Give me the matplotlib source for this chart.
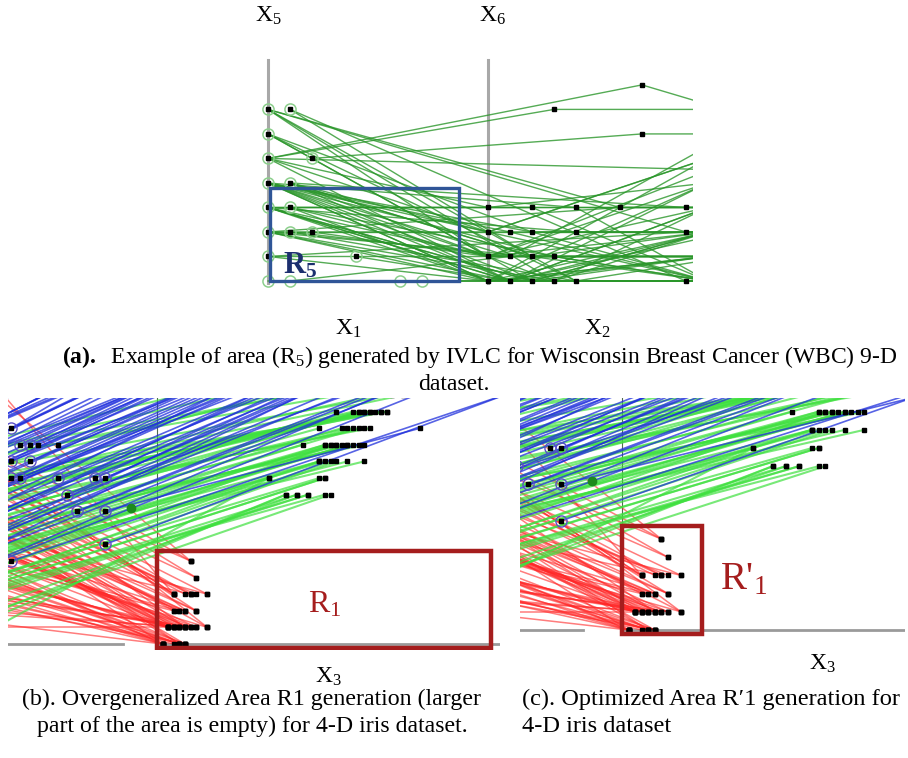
import matplotlib.pyplot as plt
from matplotlib.patches import Rectangle

plt.rcParams["font.family"] = ["Liberation Serif", "DejaVu Serif"]
plt.rcParams["mathtext.fontset"] = "custom"
plt.rcParams["mathtext.rm"] = "Liberation Serif"
plt.rcParams["mathtext.it"] = "Liberation Serif:italic"
plt.rcParams["mathtext.bf"] = "Liberation Serif:bold"

# ---------------------------------------------------------------
# (a) WBC cases: (X1, X5) left plane -> (X2, X6) right plane -> next pair
# ---------------------------------------------------------------
wbc_x1 = [0, 0, 0, 1, 0, 0, 0, 0, 0, 2, 0, 0, 0, 0, 0, 0, 0, 0, 1, 1, 0, 1, 0, 0, 0, 0, 0, 1,
          1, 0, 1, 0, 0, 0, 0, 1, 2, 0, 0, 1, 0, 4, 0, 0, 0, 1, 6, 7, 0, 1, 0, 0, 0, 1, 0, 0, 0, 0,
          0, 1, 0, 0, 1, 0, 0, 1]
wbc_x5 = [7, 7, 7, 7, 7, 6, 6, 5, 5, 5, 5, 5, 5, 4, 4, 4, 4, 4, 4, 4, 4, 4, 4, 3, 3, 3, 3, 3,
          3, 3, 3, 3, 2, 2, 2, 2, 2, 2, 2, 2, 1, 1, 1, 1, 0, 0, 0, 0, 6, 7, 7, 2, 3, 4, 4, 5, 6, 4,
          4, 4, 3, 3, 3, 2, 4, 4]
wbc_x2 = [3, 4, 0, 9, 6, 0, 2, 3, 7, 7, 12, 0, 1, 0, 1, 2, 0, 1, 2, 3, 2, 9, 4, 0, 1, 0, 2, 0,
          3, 0, 2, 4, 0, 0, 1, 1, 0, 2, 3, 4, 0, 1, 9, 0, 0, 1, 0, 1, 4, 2, 9, 6, 9, 0, 1, 0, 2, 3,
          0, 1, 1, 2, 0, 1, 0, 2]
wbc_x6 = [0, 0, 1, 0, 3, 1, 0, 7, 8, 6, 4.5, 2, 0, 0, 0, 0, 1, 1, 1, 0, 2, 3, 3, 0, 0, 1, 0, 0,
          1, 3, 3, 2, 0, 2, 2, 1, 1, 1, 0, 0, 1, 0, 2, 0, 0, 1, 0, 0, 0, 1, 2, 3, 3, 2, 2, 3, 2, 1,
          0, 0, 0, 0, 1, 0, 2, 1]
wbc_x3 = [0, 1, 0, 0, 1, 0, 0, 0, 0, 0, 2, 0, 0, 0, 1, 0, 0, 0, 0, 0, 0, 1, 0, 0, 0, 0, 0, 1,
          0, 0, 0, 0, 0, 0, 0, 1, 0, 0, 1, 0, 0, 0, 1, 0, 0, 0, 0, 0, 0, 0, 0, 0, 0, 0, 0, 0, 0, 0,
          0, 0, 0, 0, 0, 0, 0, 0]
wbc_x7 = [2, 1, 3, 0, 3, 4, 2, 7, 7.2, 6, 4.5, 5, 1, 4, 2, 0, 1, 5.5, 0, 3, 2, 3, 0, 2, 0, 2, 1, 0,
          0, 3, 0, 2, 0, 2, 0, 1, 4.5, 1, 0, 0, 1, 3, 2, 0, 5, 1, 1, 2, 0, 2, 2, 3, 3, 5, 2, 4, 0, 0,
          1, 3, 0, 2, 1, 4, 0, 1]

# ---------------------------------------------------------------
# (b), (c) iris: (X1, X2) left plane -> (X3, X4) right plane
# ---------------------------------------------------------------
setosa_x1 = [7, 9, 6, 10, 8, 7, 11, 9, 6, 8, 10, 7, 9, 11, 8, 6, 10, 7, 9, 8, 11, 6, 10, 7,
             9, 8, 10, 6, 7, 9, 11, 8, 6, 10, 7, 9, 8, 10, 6, 9, 11, 7, 5, 6,
             5, 7, 9, 11, 6, 8, 10, 12, 5, 7, 9, 11, 6, 8, 10, 12, 5, 7, 9, 11, 6, 8, 10, 12,
             7, 9, 6, 8, 10, 11]
setosa_x2 = [12.5, 11.8, 11.0, 10.6, 10.2, 9.8, 9.5, 9.1, 8.8, 8.5, 8.2, 7.9, 7.6, 7.4, 7.1,
             6.8, 6.6, 6.3, 6.0, 5.8, 5.5, 5.2, 5.0, 4.7, 4.4, 4.2, 3.9, 3.6, 3.3, 3.0, 2.7,
             2.4, 2.1, 1.8, 1.4, 1.0, 9.3, 7.0, 5.6, 4.0, 8.0, 6.1, 18.0, 16.5,
             9.0, 8.6, 8.3, 7.9, 7.7, 7.3, 7.0, 6.7, 6.5, 6.2, 5.9, 5.7, 5.4, 5.1, 4.9, 4.6,
             4.3, 4.1, 3.8, 3.5, 3.2, 2.9, 2.6, 2.3, 10.8, 10.0, 11.5, 12.0, 9.7, 6.9]
setosa_x3 = [6, 7, 6, 3, 7, 5, 9, 6, 7, 3, 9, 4, 5, 7, 2, 3, 9, 4, 5, 6, 7, 1, 9, 4,
             5, 2, 3, 4, 1, 5, 7, 5, 4, 6, 1, 3, 3, 5, 2, 4, 7, 6, 3, 6,
             5, 4, 2, 3, 7, 5, 4, 1, 6, 3, 5, 2, 4, 5, 1, 3, 2, 4, 5, 1, 4, 3, 5, 1,
             7, 6, 3, 9, 5, 4]
setosa_x4 = [5, 4, 5, 3, 4, 3, 3, 3, 3, 2, 1, 2, 2, 2, 1, 1, 3, 1, 1, 1, 1, 0, 1, 0,
             0, 1, 1, 0, 0, 1, 1, 0, 1, 1, 0, 1, 3, 2, 1, 0, 2, 3, 3, 5,
             1, 0, 1, 1, 1, 0, 0, 0, 1, 1, 2, 1, 2, 0, 0, 2, 1, 0, 1, 0, 1, 0, 0, 0,
             2, 3, 3, 1, 1, 1]

versicolor_x1 = [8, 10, 7, 9, 11, 8, 10, 6, 9, 7, 11, 8, 10, 6, 9, 11, 7, 10, 8, 12, 9, 6,
                 10, 8, 11, 7, 9, 12, 8, 10, 6, 11, 9, 7, 10, 8, 11, 7, 9, 10, 12, 6, 9,
                 6, 8, 10, 12, 7, 9, 11, 13, 6, 8, 10, 12, 7, 9, 11, 13, 8, 10, 12, 6]
versicolor_x2 = [1.5, 2.2, 2.8, 3.3, 2.0, 3.6, 4.0, 3.1, 4.4, 4.8, 3.8, 5.2, 5.5, 5.8, 6.1,
                 4.6, 6.4, 6.8, 5.0, 5.9, 7.2, 7.0, 7.5, 7.8, 6.6, 8.2, 8.5, 7.9, 8.8, 9.1,
                 8.6, 9.4, 9.8, 9.6, 10.2, 10.5, 10.0, 11.0, 11.3, 11.8, 10.8, 11.5, 12.2,
                 2.5, 3.0, 3.5, 4.2, 4.6, 5.1, 5.6, 6.0, 6.5, 7.0, 7.4, 8.0, 8.4, 9.0, 9.5,
                 10.0, 1.2, 0.8, 6.2, 5.3]
versicolor_x3 = [23, 25, 27, 30, 31, 20, 29, 30, 29, 30, 32, 34, 37, 26, 30, 31, 32, 33, 34,
                 35, 36, 37, 29, 34, 36, 37, 38, 32, 35, 36, 37, 38, 39, 40, 41,
                 42, 46, 38, 50, 33, 44, 55, 36,
                 27, 25, 30, 31, 29, 32, 34, 30, 33, 35, 36, 37, 38, 40, 41, 44, 23, 20, 31, 29]
versicolor_x4 = [9, 9, 9, 9, 9, 10, 10, 10, 11, 11, 11, 11, 11, 12, 12, 12, 12, 12, 12,
                 12, 12, 12, 13, 13, 13, 13, 13, 14, 14, 14, 14, 14, 14, 14, 14,
                 15, 15.5, 16, 16, 16.5, 17, 16.8, 17.5,
                 9, 9, 10, 11, 11, 12, 12, 12, 13, 13, 14, 14, 14, 14, 14, 15, 9, 10, 12, 11]

virginica_x1 = [14, 15.5, 17.3, 18.7, 22.3, 14, 17.3, 14, 15.5, 22.3, 29, 30.7, 24, 25.7,
                30.7, 30.7, 14,
                8, 6, 10, 7, 11, 9, 5, 12, 8, 6, 10, 7, 11, 9, 5, 12, 8, 6, 10, 7, 9, 11, 8,
                6, 12, 9, 5, 7, 9, 11, 13, 6, 8, 10, 12, 14, 5, 7, 9, 11, 13, 6, 8, 10, 12,
                14, 7, 9, 11, 13, 8]
virginica_x2 = [13, 12, 12, 12, 12, 11, 11, 10, 10, 10, 10, 10, 9, 8, 8, 6, 5,
                16, 15, 14.5, 14, 13.5, 13, 12.5, 12, 11.5, 11, 10.5, 10, 9.5, 9, 8.5, 8,
                7.5, 7, 6.5, 6, 5.5, 5, 4.5, 14, 15, 12, 13.5, 12.8, 12.2, 11.7, 11.2, 10.8,
                10.3, 9.8, 9.3, 8.8, 8.3, 7.8, 7.3, 6.8, 6.3, 5.8, 9.6, 11.0, 12.6, 14.0,
                15.5, 7.0, 6.0, 9.0, 13.0]
virginica_x3 = [30, 35, 40, 30, 45, 38, 42, 40, 50, 45, 40, 50, 45, 52, 47, 70, 62,
                25, 30, 22, 35, 28, 40, 32, 45, 26, 38, 50, 30, 42, 36, 45, 38, 40, 42,
                36, 44, 48, 40, 50, 20, 35, 24, 30, 35, 38, 33, 40, 36, 42, 38, 44, 34,
                40, 45, 36, 42, 38, 44, 30, 34, 30, 26, 24, 50, 46, 40, 28]
virginica_x4 = [22, 21, 21, 20, 21, 21, 20, 20, 20, 19, 18, 18.5, 18, 17, 13, 16, 15,
                26, 25, 24, 24, 23, 23, 22, 22, 21, 21, 21, 20, 20, 19, 19, 18, 17.5, 17.5,
                16.5, 16.5, 16, 15, 15.5, 25, 27, 23, 24, 23, 23, 22, 22, 21, 21, 20, 20,
                19, 19, 18.5, 18, 18, 17, 17, 19, 21, 22, 23, 25, 17, 16, 19, 23]

# circled cases on the left plane, and the one solid marker
ring_x1 = [14, 15.5, 17.3, 14, 17.3, 14, 15.5, 22.3, 29, 30.7, 24, 25.7, 30.7, 30.7, 14]
ring_x2 = [13, 12, 12, 11, 11, 10, 10, 10, 10, 10, 9, 8, 8, 6, 5]
marked_x1, marked_x2 = 35.4, 8.2

LEFT_ORIGIN = -40     # X1 = 0 sits this far left of the X3/X4 origin
WBC_GAP = 10          # distance between collocated planes in panel (a)

W, H = 908, 758
fig = plt.figure(figsize=(W / 100, H / 100), dpi=100)


def box(x0, y0, x1, y1):
    return [x0 / W, 1 - y1 / H, (x1 - x0) / W, (y1 - y0) / H]


def ftext(x, y, s, **kw):
    fig.text(x / W, 1 - y / H, s, va="center", **kw)


# ---------------- panel (a) ----------------
ax = fig.add_axes(box(258, 55, 693, 292))
ax.set_axis_off()
ax.set_xlim(-0.4545, 19.32)
ax.set_ylim(-0.449, 9.22)

for xa in (0, WBC_GAP):
    ax.plot([xa, xa], [-0.08, 9.02], color="#a8a8a8", lw=2.2, zorder=1)

for i in range(len(wbc_x1)):
    xs = [wbc_x1[i], WBC_GAP + wbc_x2[i], 2 * WBC_GAP + wbc_x3[i]]
    ys = [wbc_x5[i], wbc_x6[i], wbc_x7[i]]
    ax.plot(xs, ys, color="#2a962a", lw=1.0, alpha=0.8, zorder=2)

left_pts = sorted(set(zip(wbc_x1, wbc_x5)))
for px, py in left_pts:
    ax.plot(px, py, "o", ms=8, mfc="none", mec="#8ccf8c", mew=1.1, zorder=3)
    if py > 0:
        ax.plot(px, py, "s", ms=2.4, color="black", zorder=4)
right_pts = sorted(set(zip(wbc_x2, wbc_x6)))
for px, py in right_pts:
    ax.plot(WBC_GAP + px, py, "s", ms=2.4, color="black", zorder=4)

ax.add_patch(Rectangle((0.1, 0.0), 8.6, 3.78, fill=False, ec="#2f5597", lw=2.4, zorder=5))
ax.text(0.7, 0.62, r"$\mathbf{R}_{\mathbf{5}}$", color="#1c2f6e", fontsize=22,
        ha="left", va="center", zorder=6)

ftext(268, 16, r"X$_5$", fontsize=17, ha="center")
ftext(493, 16, r"X$_6$", fontsize=17, ha="center")
ftext(348, 329, r"X$_1$", fontsize=17, ha="center")
ftext(597, 329, r"X$_2$", fontsize=17, ha="center")

ftext(62, 357, r"$\mathbf{(a).}$  Example of area (R$_5$) generated by IVLC for "
      "Wisconsin Breast Cancer (WBC) 9-D", fontsize=17, ha="left")
ftext(454, 384, "dataset.", fontsize=17, ha="center")


# ---------------- panels (b) and (c) ----------------
def iris_panel(rect_px, xlim, ylim, region_w, region_h, label, label_xy, label_size):
    ax = fig.add_axes(box(*rect_px))
    ax.set_axis_off()
    ax.set_xlim(*xlim)
    ax.set_ylim(*ylim)

    ax.plot([LEFT_ORIGIN - 10, -6], [0, 0], color="#9a9a9a", lw=2, zorder=1)
    ax.plot([0, 90], [0, 0], color="#9a9a9a", lw=2, zorder=1)
    ax.plot([0, 0], [region_h - 0.3, 30], color="#4f6a4f", lw=0.8, zorder=1)

    for i in range(len(setosa_x1)):
        ax.plot([LEFT_ORIGIN + setosa_x1[i], setosa_x3[i]], [setosa_x2[i], setosa_x4[i]],
                color="#ff2626", lw=1.1, alpha=0.6, zorder=2)
    for i in range(len(versicolor_x1)):
        ax.plot([LEFT_ORIGIN + versicolor_x1[i], versicolor_x3[i]],
                [versicolor_x2[i], versicolor_x4[i]],
                color="#3fe03f", lw=1.5, alpha=0.7, zorder=3)
    for i in range(len(virginica_x1)):
        ax.plot([LEFT_ORIGIN + virginica_x1[i], virginica_x3[i]],
                [virginica_x2[i], virginica_x4[i]],
                color="#1f2fdc", lw=1.2, alpha=0.75, zorder=4)

    ax.plot(setosa_x3, setosa_x4, "s", ms=2.6, color="black", ls="none", zorder=6)
    ax.plot(versicolor_x3, versicolor_x4, "s", ms=2.6, color="black", ls="none", zorder=6)
    ax.plot(47, 13, "s", ms=2.6, color="black", zorder=6)
    for rx, ry in zip(ring_x1, ring_x2):
        ax.plot(LEFT_ORIGIN + rx, ry, "o", ms=8, mfc="none", mec="#5a4fc8", mew=1.0, zorder=5)
        ax.plot(LEFT_ORIGIN + rx, ry, "s", ms=2.8, color="black", zorder=6)
    ax.plot([LEFT_ORIGIN + 18.7, LEFT_ORIGIN + 22.3], [12, 12], "s", ms=2.8, color="black",
            ls="none", zorder=6)
    ax.plot(LEFT_ORIGIN + marked_x1, marked_x2, "o", ms=6, color="#1d8a1d", zorder=6)

    ax.add_patch(Rectangle((0, -0.22), region_w, region_h, fill=False, ec="#a51d1d",
                           lw=3.2, zorder=7))
    ax.text(*label_xy, label, color="#a51d1d", fontsize=label_size, ha="center",
            va="center", zorder=8)
    return ax


iris_panel((8, 398, 500, 650), (-26.6, 61.25), (-0.36, 14.82), 59.6, 5.82,
           r"R$_1$", (30, 2.35), 23)
iris_panel((520, 398, 905, 640), (-15.57, 43.2), (-0.55, 12.75), 12.2, 5.92,
           r"R$'_1$", (18.5, 2.75), 28)

ftext(328, 677, r"X$_3$", fontsize=17, ha="center")
ftext(822, 664, r"X$_3$", fontsize=17, ha="center")

ftext(252, 699, "(b). Overgeneralized Area R1 generation (larger", fontsize=17.2, ha="center")
ftext(252, 726, "part of the area is empty) for 4-D iris dataset.", fontsize=17.2, ha="center")
ftext(522, 699, "(c). Optimized Area R\u20321 generation for", fontsize=17.6, ha="left")
ftext(522, 726, "4-D iris dataset", fontsize=17.6, ha="left")

fig.savefig("out.png", dpi=100)
